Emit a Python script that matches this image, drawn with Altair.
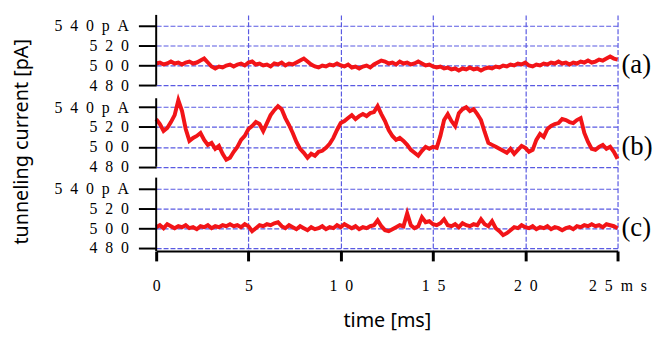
import altair as alt
import pandas as pd

# sample times (ms), 0.2 ms spacing
times = [round(i * 0.2, 1) for i in range(126)]

trace_a = [502, 503, 501, 502, 504, 502, 503, 501, 503, 504,
           502, 503, 505, 507, 503, 499, 497, 499, 498, 500,
           501, 499, 501, 502, 500, 503, 504, 501, 502, 500,
           501, 499, 502, 501, 503, 500, 502, 501, 503, 505,
           507, 504, 501, 499, 498, 500, 499, 501, 500, 502,
           500, 499, 501, 498, 499, 497, 499, 500, 498, 501,
           503, 505, 504, 502, 503, 501, 504, 502, 503, 501,
           502, 504, 502, 500, 501, 499, 498, 499, 497, 498,
           496, 497, 495, 497, 496, 498, 496, 497, 495, 497,
           498, 497, 499, 498, 500, 499, 501, 500, 502, 501,
           503, 500, 499, 501, 500, 502, 501, 503, 502, 504,
           502, 503, 501, 503, 502, 504, 503, 505, 503, 504,
           506, 505, 507, 509, 507, 506]

trace_b = [528, 523, 516, 519, 525, 532, 547, 536, 518, 506,
           509, 511, 514, 507, 502, 504, 498, 501, 493, 487,
           489, 495, 500, 507, 511, 518, 521, 525, 523, 516,
           524, 532, 537, 541, 538, 529, 522, 514, 505, 498,
           494, 489, 493, 491, 495, 496, 499, 503, 509, 517,
           524, 526, 529, 532, 528, 531, 533, 531, 534, 535,
           541, 533, 526, 517, 511, 507, 509, 506, 502, 497,
           494, 491, 496, 500, 498, 500, 499, 511, 527, 533,
           526, 521, 534, 538, 540, 536, 538, 533, 527, 515,
           504, 502, 500, 498, 496, 494, 498, 493, 497, 501,
           499, 495, 497, 507, 513, 510, 518, 521, 523, 524,
           528, 527, 525, 524, 527, 529, 514, 505, 498, 497,
           500, 502, 498, 500, 495, 488]

trace_c = [501, 503, 500, 504, 502, 500, 502, 501, 503, 500,
           501, 499, 502, 501, 503, 500, 502, 501, 503, 502,
           504, 502, 503, 501, 504, 502, 497, 500, 503, 502,
           504, 503, 505, 506, 502, 500, 503, 501, 499, 502,
           500, 498, 501, 499, 500, 502, 499, 501, 500, 503,
           501, 504, 502, 500, 502, 499, 501, 500, 502, 503,
           508, 502, 498, 497, 499, 501, 503, 502, 515, 503,
           500, 502, 511, 506, 507, 504, 503, 505, 509, 503,
           502, 504, 501, 505, 503, 502, 504, 503, 509, 504,
           502, 507, 500, 497, 493, 495, 498, 501, 500, 503,
           501, 500, 502, 499, 501, 500, 502, 499, 501, 500,
           498, 500, 501, 499, 502, 501, 503, 502, 504, 502,
           503, 501, 504, 503, 502, 500]

panels = ["(a)", "(b)", "(c)"]
offsets = [0, 82, 164]          # vertical stacking offset of each panel (pA)
axis_top = [551, 549, 551]      # top of each panel's y-axis line (pA)
axis_bottom = [480, 480, 477]   # bottom of each panel's y-axis line (pA)
y_ticks = [480, 500, 520, 540]
y_tick_labels = ["4 8 0", "5 0 0", "5 2 0", "5 4 0 p A"]
x_ticks = [0, 5, 10, 15, 20, 25]
x_tick_labels = ["0", "5", "1 0", "1 5", "2 0", "2 5 m s"]

SP = "\u2002"

rows = []
for name, off, tr in zip(panels, offsets, [trace_a, trace_b, trace_c]):
    for t, v in zip(times, tr):
        rows.append({"t": t, "current": v, "y": v - off, "panel": name})
df = pd.DataFrame(rows)

axis_df = pd.DataFrame({
    "panel": panels,
    "y": [b - o for b, o in zip(axis_bottom, offsets)],
    "ytop": [t - o for t, o in zip(axis_top, offsets)],
})
lab_df = pd.DataFrame({
    "panel": panels,
    "t": [25] * 3,
    "y": [500 - o for o in offsets],
})

y_values = []
y_expr = "''"
for off in offsets:
    for v, lab in zip(y_ticks, y_tick_labels):
        y_values.append(v - off)
        y_expr = f"datum.value == {v - off} ? '{lab.replace(' ', SP)}' : ({y_expr})"
y_values = sorted(y_values)
x_expr = "''"
for v, lab in zip(x_ticks, x_tick_labels):
    x_expr = f"datum.value == {v} ? '{lab.replace(' ', SP)}' : ({x_expr})"

grid_color = "#5a5ae2"
serif = "Liberation Serif"

x_enc = alt.X(
    "t:Q",
    scale=alt.Scale(domain=[0, 25], nice=False),
    axis=alt.Axis(
        values=x_ticks, tickCount=len(x_ticks), labelExpr=x_expr,
        tickSize=10, tickWidth=3,
        tickColor="black", domainColor="black", domainWidth=2,
        labelFont=serif, labelFontSize=16, labelColor="black",
        labelPadding=17, labelFlush=False, labelOverlap=False,
        grid=True, gridColor=grid_color, gridDash=[5, 2], gridWidth=1.2,
        gridOpacity=alt.condition("datum.value == 0", alt.value(0), alt.value(1)),
        title="time [ms]", titleFont="Noto Sans", titleFontSize=20,
        titleFontWeight="normal", titleColor="black", titlePadding=17,
    ),
)
y_enc = alt.Y(
    "y:Q",
    scale=alt.Scale(domain=[313, 551], nice=False, zero=False),
    axis=alt.Axis(
        values=y_values, tickCount=len(y_values), labelExpr=y_expr,
        tickSize=18, tickWidth=2,
        tickColor="black", domain=False,
        labelFont=serif, labelFontSize=16, labelColor="black",
        labelPadding=10, labelFlush=False, labelOverlap=False,
        grid=True, gridColor=grid_color, gridDash=[5, 2], gridWidth=1.2,
        title="tunneling current [pA]", titleFont="Noto Sans",
        titleFontSize=20, titleFontWeight="normal", titleColor="black",
        titleX=-136, titleY=128, titleAlign="center", titleBaseline="middle",
        titleAngle=-90,
    ),
)

lines = alt.Chart(df).mark_line(color="#f21418", strokeWidth=4).encode(
    x=x_enc, y=y_enc, detail="panel:N"
)

axis_lines = alt.Chart(axis_df).mark_rule(color="black", strokeWidth=2).encode(
    x=alt.datum(0), y="y:Q", y2="ytop:Q"
)

labels = alt.Chart(lab_df).mark_text(
    align="left", baseline="middle", dx=4, font=serif, fontSize=27, color="black"
).encode(x="t:Q", y="y:Q", text="panel:N")

chart = alt.layer(lines, axis_lines, labels).properties(
    width=467,
    height=239,
    autosize=alt.AutoSizeParams(type="none"),
    padding={"left": 150, "top": 5, "right": 45, "bottom": 82},
).configure_view(stroke=None)

chart.save("out.html", embed_options={"renderer": "svg", "actions": False})
